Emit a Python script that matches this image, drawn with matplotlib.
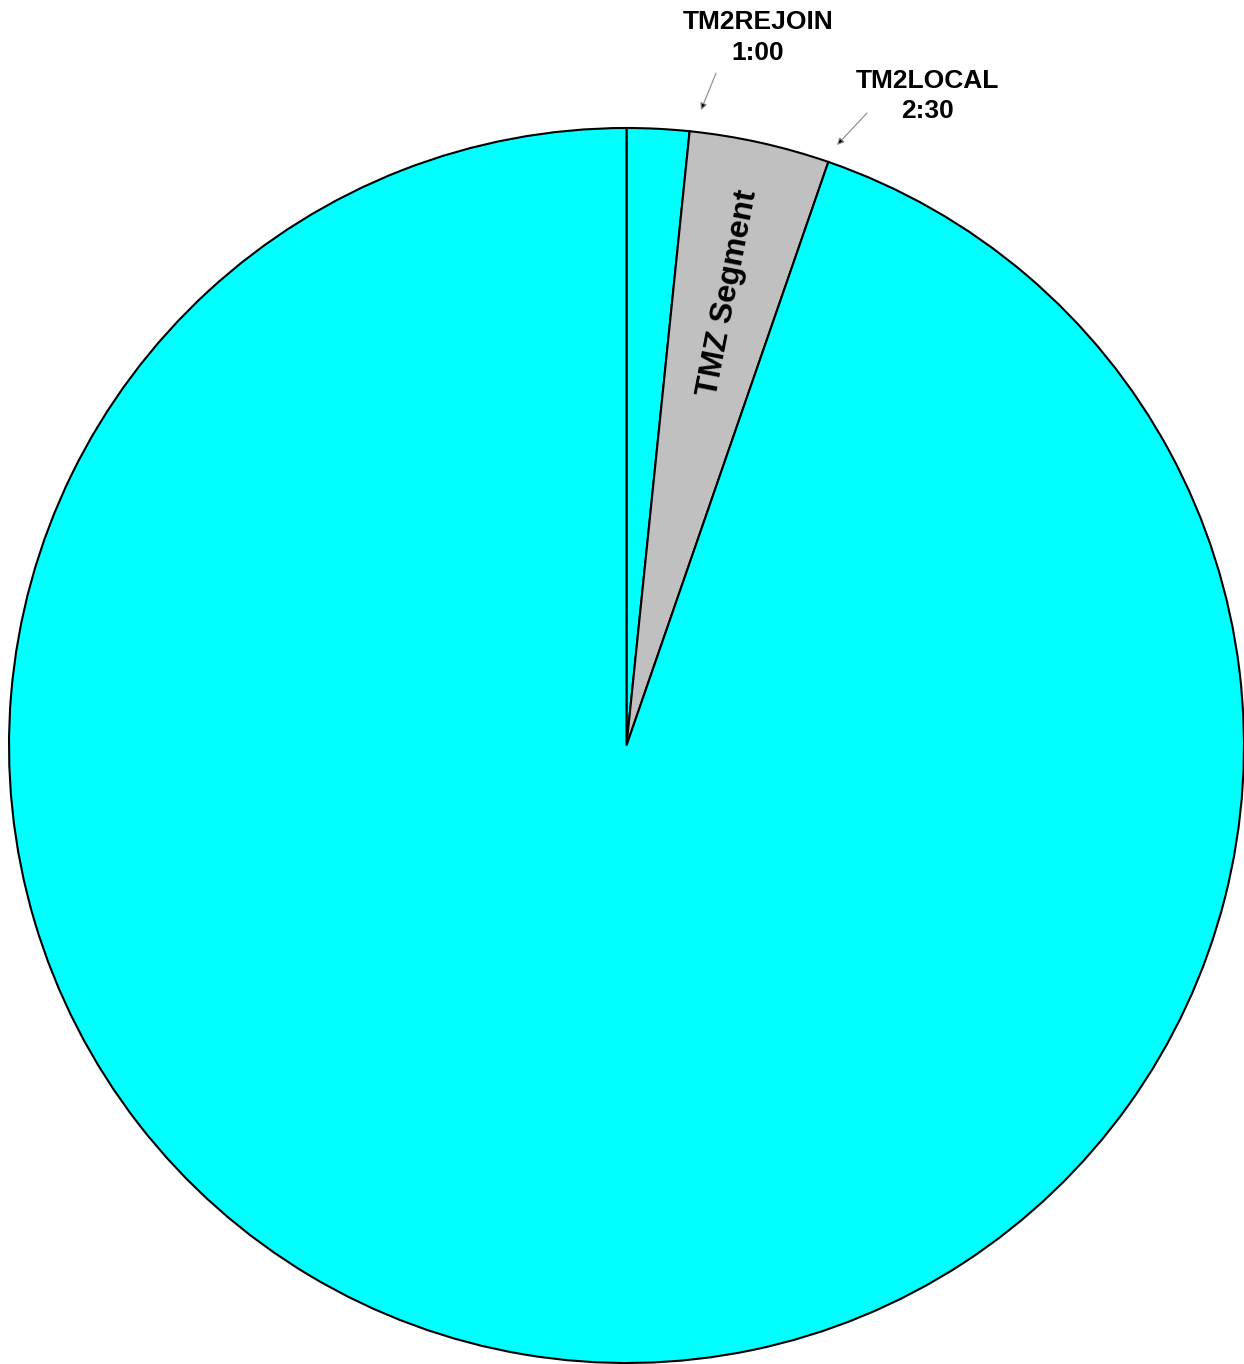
import matplotlib
matplotlib.use('Agg')
import matplotlib.pyplot as plt

# slice shares (percent of the full cycle), clockwise from 12 o'clock
slice_names = ['to rejoin', 'TMZ Segment', 'rest']
slice_shares = [1.63, 3.67, 94.70]
slice_colors = ['#00ffff', '#c0c0c0', '#00ffff']

marker_labels = ['TM2REJOIN\n1:00', 'TM2LOCAL\n2:30']

plt.rcParams['font.family'] = ['Liberation Sans', 'DejaVu Sans']

fig = plt.figure(figsize=(12.44, 13.64), dpi=100)
ax = fig.add_axes([0, 0, 1, 1])

wedges, _ = ax.pie(slice_shares, colors=slice_colors, startangle=90,
                   counterclock=False, radius=1.0,
                   wedgeprops=dict(edgecolor='black', linewidth=1.5))

ax.set_xlim(-1.0146, 1.0)
ax.set_ylim(-1.0016, 1.2073)
ax.set_aspect('auto')
ax.set_axis_off()

# in-slice label
ax.text(0.1644, 0.7328, slice_names[1], rotation=79, ha='center', va='center',
        fontsize=23, fontweight='bold', rotation_mode='anchor')

# marker labels with small arrows
label_pos = [(0.213, 1.147), (0.488, 1.052)]
arrow_tail = [(0.145, 1.089), (0.3895, 1.0243)]
arrow_tip = [(0.1206, 1.0291), (0.3409, 0.9725)]
for lab, pos, tail, tip in zip(marker_labels, label_pos, arrow_tail, arrow_tip):
    ax.text(pos[0], pos[1], lab, ha='center', va='center', fontsize=19,
            fontweight='bold', linespacing=1.35)
    ax.annotate('', xy=tip, xytext=tail,
                arrowprops=dict(arrowstyle='-|>', mutation_scale=10,
                                fc='black', ec='#888888', lw=0.8,
                                shrinkA=0, shrinkB=0))

fig.savefig('out.png', dpi=100)
